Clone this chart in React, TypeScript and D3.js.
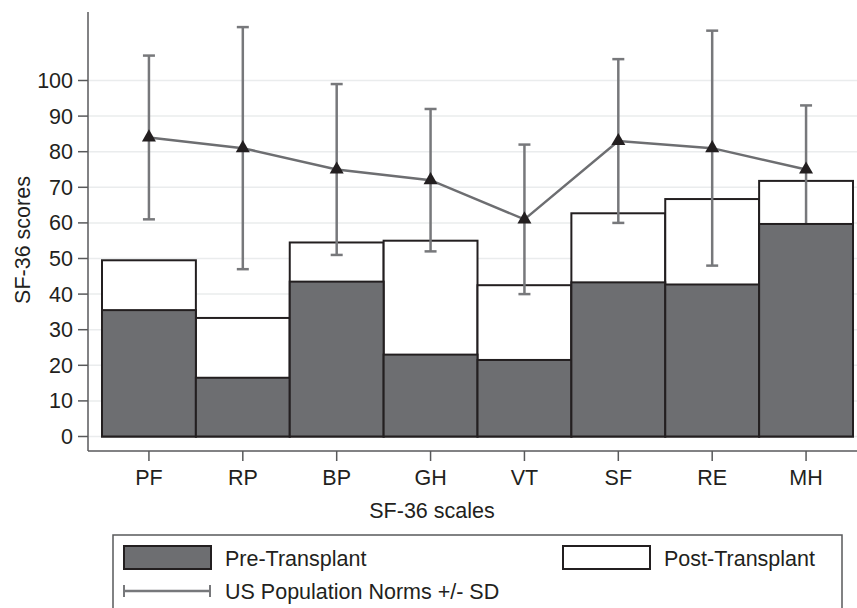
import * as d3 from 'd3';
import React, { useRef, useEffect } from 'react';

const scales = ['PF', 'RP', 'BP', 'GH', 'VT', 'SF', 'RE', 'MH'];
const preTransplant = [35.5, 16.5, 43.5, 23, 21.5, 43.3, 42.7, 59.7];
const postTransplant = [49.5, 33.3, 54.5, 55, 42.5, 62.7, 66.7, 71.8];
const normMean = [84, 81, 75, 72, 61, 83, 81, 75];
const normUpper = [107, 115, 99, 92, 82, 106, 114, 93];
const normLower = [61, 47, 51, 52, 40, 60, 48, 57];
const yTicks = [0, 10, 20, 30, 40, 50, 60, 70, 80, 90, 100];

const W = 857;
const H = 608;
const font = 'Liberation Sans, Arial, Helvetica, sans-serif';
const fs = 21.5;

function App() {
  const ref = useRef(null);

  useEffect(() => {
    const svg = d3.select(ref.current);
    svg.selectAll('*').remove();

    const x = d3.scaleBand().domain(scales).range([102, 853]).padding(0);
    const y = d3.scaleLinear().domain([0, 100]).range([436.5, 80.5]);

    // grid
    svg.append('g')
      .selectAll('line')
      .data(yTicks)
      .enter()
      .append('line')
      .attr('x1', 89)
      .attr('x2', W)
      .attr('y1', (d) => y(d))
      .attr('y2', (d) => y(d))
      .attr('stroke', '#eaeced')
      .attr('stroke-width', 1.5);

    // post bars (behind)
    svg.append('g')
      .selectAll('rect')
      .data(postTransplant)
      .enter()
      .append('rect')
      .attr('x', (d, i) => x(scales[i]))
      .attr('width', x.bandwidth())
      .attr('y', (d) => y(d))
      .attr('height', (d) => y(0) - y(d))
      .attr('fill', '#ffffff')
      .attr('stroke', '#231f20')
      .attr('stroke-width', 2);

    // error bars
    const cx = (i) => x(scales[i]) + x.bandwidth() / 2;
    const eb = svg.append('g').attr('stroke', '#77787b').attr('stroke-width', 2.5);
    scales.forEach((s, i) => {
      eb.append('line')
        .attr('x1', cx(i)).attr('x2', cx(i))
        .attr('y1', y(normUpper[i])).attr('y2', y(normLower[i]));
      eb.append('line')
        .attr('x1', cx(i) - 6).attr('x2', cx(i) + 6)
        .attr('y1', y(normUpper[i])).attr('y2', y(normUpper[i]));
      eb.append('line')
        .attr('x1', cx(i) - 6).attr('x2', cx(i) + 6)
        .attr('y1', y(normLower[i])).attr('y2', y(normLower[i]));
    });

    // pre bars (front)
    svg.append('g')
      .selectAll('rect')
      .data(preTransplant)
      .enter()
      .append('rect')
      .attr('x', (d, i) => x(scales[i]))
      .attr('width', x.bandwidth())
      .attr('y', (d) => y(d))
      .attr('height', (d) => y(0) - y(d))
      .attr('fill', '#6d6e71')
      .attr('stroke', '#231f20')
      .attr('stroke-width', 2);

    // norms line
    const line = d3.line()
      .x((d, i) => cx(i))
      .y((d) => y(d));
    svg.append('path')
      .datum(normMean)
      .attr('d', line)
      .attr('fill', 'none')
      .attr('stroke', '#6d6e71')
      .attr('stroke-width', 2.5);

    svg.append('g')
      .selectAll('path')
      .data(normMean)
      .enter()
      .append('path')
      .attr('d', d3.symbol().type(d3.symbolTriangle).size(85))
      .attr('transform', (d, i) => `translate(${cx(i)},${y(d)})`)
      .attr('fill', '#231f20');

    // axes
    svg.append('line')
      .attr('x1', 88).attr('x2', 88).attr('y1', 12).attr('y2', 451)
      .attr('stroke', '#58595b').attr('stroke-width', 1.5);
    svg.append('line')
      .attr('x1', 88).attr('x2', W).attr('y1', 451).attr('y2', 451)
      .attr('stroke', '#58595b').attr('stroke-width', 1.5);

    const yt = svg.append('g');
    yTicks.forEach((t) => {
      yt.append('line')
        .attr('x1', 78).attr('x2', 88).attr('y1', y(t)).attr('y2', y(t))
        .attr('stroke', '#58595b').attr('stroke-width', 1.5);
      yt.append('text')
        .attr('x', 73).attr('y', y(t))
        .attr('dy', '0.35em')
        .attr('text-anchor', 'end')
        .attr('font-family', font)
        .attr('font-size', fs)
        .attr('fill', '#231f20')
        .text(t);
    });

    const xt = svg.append('g');
    scales.forEach((s, i) => {
      xt.append('line')
        .attr('x1', cx(i)).attr('x2', cx(i)).attr('y1', 451).attr('y2', 461)
        .attr('stroke', '#58595b').attr('stroke-width', 1.5);
      xt.append('text')
        .attr('x', cx(i)).attr('y', 485)
        .attr('text-anchor', 'middle')
        .attr('font-family', font)
        .attr('font-size', fs)
        .attr('fill', '#231f20')
        .text(s);
    });

    svg.append('text')
      .attr('x', 432).attr('y', 518)
      .attr('text-anchor', 'middle')
      .attr('font-family', font)
      .attr('font-size', fs)
      .attr('fill', '#231f20')
      .text('SF-36 scales');

    svg.append('text')
      .attr('transform', 'translate(30,240) rotate(-90)')
      .attr('text-anchor', 'middle')
      .attr('font-family', font)
      .attr('font-size', fs)
      .attr('fill', '#231f20')
      .text('SF-36 scores');

    // legend
    const lg = svg.append('g');
    lg.append('rect')
      .attr('x', 113).attr('y', 535).attr('width', 729).attr('height', 90)
      .attr('fill', 'none').attr('stroke', '#58595b').attr('stroke-width', 1.5);
    lg.append('rect')
      .attr('x', 124).attr('y', 546).attr('width', 87).attr('height', 23)
      .attr('fill', '#6d6e71').attr('stroke', '#231f20').attr('stroke-width', 2);
    lg.append('rect')
      .attr('x', 563).attr('y', 546).attr('width', 87).attr('height', 23)
      .attr('fill', '#ffffff').attr('stroke', '#231f20').attr('stroke-width', 2);
    lg.append('line')
      .attr('x1', 124).attr('x2', 210).attr('y1', 591).attr('y2', 591)
      .attr('stroke', '#77787b').attr('stroke-width', 2.5);
    [124, 210].forEach((px) => {
      lg.append('line')
        .attr('x1', px).attr('x2', px).attr('y1', 585).attr('y2', 597)
        .attr('stroke', '#77787b').attr('stroke-width', 2);
    });
    const legendText = [
      ['Pre-Transplant', 225, 566],
      ['Post-Transplant', 664, 566],
      ['US Population Norms +/- SD', 225, 599],
    ];
    legendText.forEach(([t, lx, ly]) => {
      lg.append('text')
        .attr('x', lx).attr('y', ly)
        .attr('font-family', font)
        .attr('font-size', fs)
        .attr('fill', '#231f20')
        .text(t);
    });
  }, []);

  return (
    <svg
      ref={ref}
      width={W}
      height={H}
      style={{ position: 'absolute', left: 0, top: 0, background: '#fff' }}
    ></svg>
  );
}

export default App;
